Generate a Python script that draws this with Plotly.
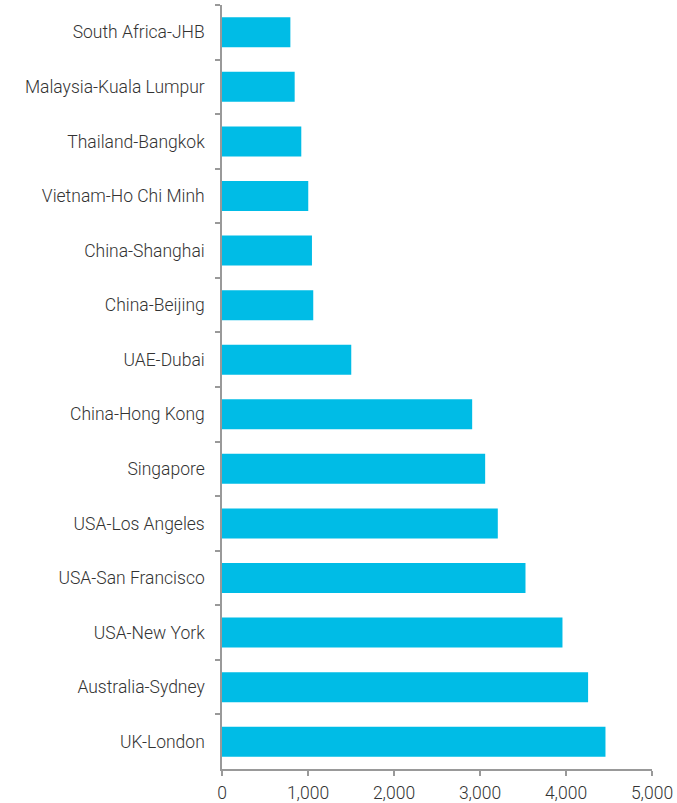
import plotly.graph_objects as go

cities = [
    "South Africa-JHB", "Malaysia-Kuala Lumpur", "Thailand-Bangkok", "Vietnam-Ho Chi Minh",
    "China-Shanghai", "China-Beijing", "UAE-Dubai", "China-Hong Kong", "Singapore",
    "USA-Los Angeles", "USA-San Francisco", "USA-New York", "Australia-Sydney", "UK-London",
]
values = [795, 845, 922, 1003, 1046, 1061, 1503, 2909, 3060, 3207, 3529, 3959, 4257, 4459]
x_ticks = [0, 1000, 2000, 3000, 4000, 5000]
x_tick_labels = ["0", "1,000", "2,000", "3,000", "4,000", "5,000"]

fig = go.Figure(go.Bar(
    x=values, y=cities, orientation="h",
    marker=dict(color="#00BCE6", line=dict(width=0)),
    hoverinfo="x+y",
))

label_font = dict(family="Roboto, Liberation Sans, sans-serif", size=17.5, color="#333333", weight=300)

fig.update_layout(
    width=677, height=803,
    margin=dict(l=222, r=25, t=5, b=34, autoexpand=False),
    plot_bgcolor="white", paper_bgcolor="white",
    bargap=0.45,
    showlegend=False,
    font=label_font,
)
fig.update_xaxes(
    range=[0, 5000], tickvals=x_ticks, ticktext=x_tick_labels,
    showgrid=False, zeroline=False, automargin=False,
    showline=True, linecolor="#999999", linewidth=1.5,
    ticks="outside", ticklen=5, tickcolor="#999999", tickwidth=1.5,
    ticklabelstandoff=2,
    tickfont=label_font,
)
fig.update_yaxes(
    autorange="reversed", type="category",
    showgrid=False, zeroline=False, automargin=False,
    showline=True, linecolor="#999999", linewidth=1.5,
    ticks="outside", ticklen=5, tickcolor="#999999", tickwidth=1.5,
    tickson="boundaries", ticklabelstandoff=12,
    tickfont=label_font,
)

fig.write_html(
    "out.html",
    config={"displayModeBar": False},
    post_script="document.body.style.margin='0';document.body.style.padding='0';",
)
